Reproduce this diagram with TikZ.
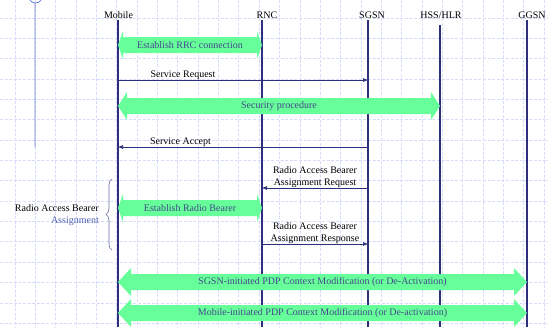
\documentclass[tikz,border=0pt]{standalone}
\usepackage{fontspec}
\setmainfont{Liberation Serif}
\usetikzlibrary{arrows.meta,decorations.pathreplacing,calc}

\definecolor{gridblue}{HTML}{D6DCFA}
\definecolor{lineblue}{HTML}{6A80E0}
\definecolor{navy}{HTML}{2E2E7E}
\definecolor{fatgreen}{HTML}{66FF99}
\definecolor{fattext}{HTML}{46468E}
\definecolor{bracetext}{HTML}{5262B0}

\tikzset{
  gridline/.style={draw=gridblue,line width=.8pt,dash pattern=on 3pt off 1.6pt},
  lifeline/.style={draw=navy,line width=1.1pt},
  msg/.style={->,draw=navy,line width=.6pt},
  msgtext/.style={font=\fontsize{10}{12}\selectfont,align=center,inner sep=.5pt},
  entity/.style={font=\fontsize{10}{12}\selectfont,inner sep=0pt},
  fatlabel/.style={text=fattext,font=\fontsize{10}{12}\selectfont,inner sep=0pt},
}

% left end, right end, head length, name, text
\newcommand\fatarrow[5]{%
  \fill[fatgreen] (#1) -- ++(#3,-14) -- ++(0,6) -- ($(#2)+(-#3,-8)$) -- ++(0,-6) -- (#2)
    -- ++(-#3,14) -- ++(0,-6) -- ($(#1)+(#3,8)$) -- ++(0,6) -- cycle;
  \node[fatlabel] (#4) at ($(#1)!.5!(#2)$) {#5};}

\begin{document}
\begin{tikzpicture}[x=1pt,y=-1pt,>={Latex[length=5pt,width=4pt]}]
  \useasboundingbox[fill=white] (0,0) rectangle (548,327);
  \foreach \i in {0,...,26}
    \draw[gridline] ({15+20.35*\i},0) -- ++(0,327);
  \foreach \i in {0,...,15}
    \draw[gridline] (0,{18+20.35*\i}) -- ++(548,0);
  \draw[lineblue,line width=.8pt] (35.5,-3.5) circle[radius=6.5] (35,3) -- (35,147);

  \node[entity] (mobname) at (118.5,15) {Mobile};
  \node[entity] (rncname) at (267,15) {RNC};
  \node[entity] (sgsnname) at (372,15) {SGSN};
  \node[entity] (hssname) at (441,15) {HSS/HLR};
  \node[entity] (ggsnname) at (532,15) {GGSN};
  \foreach \n/\x/\t in {mob/118/20,rnc/262/20,sgsn/368/20,hss/440/25,ggsn/527/20}{
    \coordinate (\n) at (\x,\t);
    \draw[lifeline] (\n) -- (\x,327);
  }

  \coordinate (rrc) at (0,45);
  \coordinate (req) at (0,80);
  \coordinate (sec) at (0,106);
  \coordinate (acc) at (0,147);
  \coordinate (rabreq) at (0,188);
  \coordinate (rb) at (0,208);
  \coordinate (rabresp) at (0,244);
  \coordinate (pdpa) at (0,282);
  \coordinate (pdpb) at (0,313);

  \fatarrow{mob|-rrc}{rnc|-rrc}{5}{rrclbl}{Establish RRC connection}
  \draw[msg] (mob|-req) -- node[msgtext,pos=.26,above] {Service Request} (sgsn|-req);
  \fatarrow{mob|-sec}{hss|-sec}{9}{seclbl}{Security procedure}
  \draw[msg] (sgsn|-acc) -- node[msgtext,pos=.75,above] {Service Accept} (mob|-acc);
  \draw[msg] (sgsn|-rabreq) -- node[msgtext,above] {Radio Access Bearer\\Assignment Request} (rnc|-rabreq);
  \fatarrow{mob|-rb}{rnc|-rb}{5}{rblbl}{Establish Radio Bearer}
  \draw[msg] (rnc|-rabresp) -- node[msgtext,above] {Radio Access Bearer\\Assignment Response} (sgsn|-rabresp);
  \fatarrow{mob|-pdpa}{ggsn|-pdpa}{13}{pdpalbl}{SGSN-initiated PDP Context Modification (or De-Activation)}
  \fatarrow{mob|-pdpb}{ggsn|-pdpb}{13}{pdpblbl}{Mobile-initiated PDP Context Modification (or De-activation)}

  \draw[decorate,decoration={brace,amplitude=6pt},draw=navy!70,line width=.6pt] (112,250) -- (112,179);
  \node[msgtext,anchor=east,align=right,inner sep=0pt] (rablbl) at (99,215)
    {Radio Access Bearer\\\textcolor{bracetext}{Assignment}};
\end{tikzpicture}
\end{document}
